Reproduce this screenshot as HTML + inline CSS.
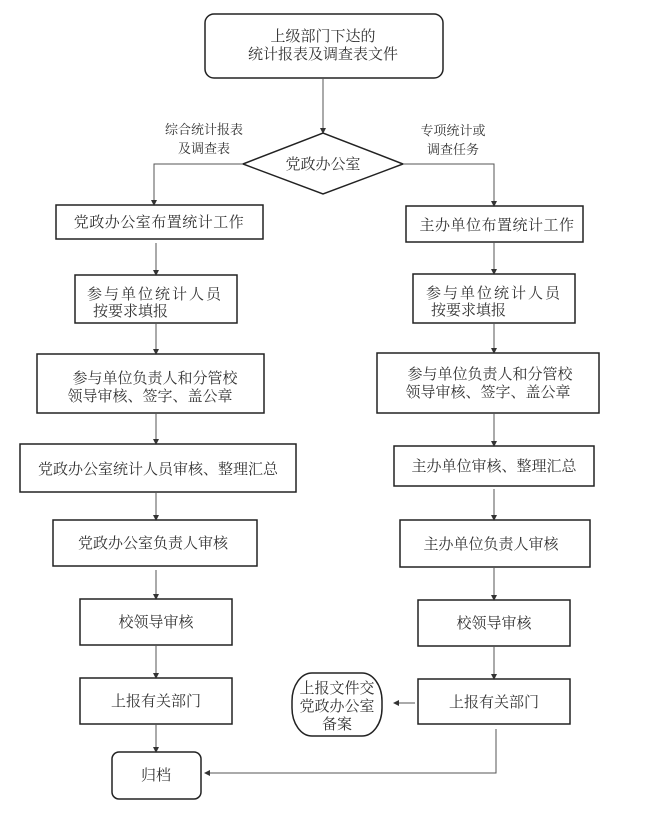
<!DOCTYPE html>
<html><head><meta charset="utf-8"><style>
html,body{margin:0;padding:0;background:#fff;}
svg{display:block;}
text{font-family:"Liberation Serif","Noto Serif CJK SC","Noto Sans CJK SC",serif;font-size:15px;fill:#333;}
.s{font-size:13px;}
</style></head><body>
<svg width="648" height="822" viewBox="0 0 648 822" xmlns="http://www.w3.org/2000/svg">
<defs><marker id="a" markerWidth="6" markerHeight="6" refX="5" refY="3" orient="auto" markerUnits="userSpaceOnUse"><path d="M0,0 L6,3 L0,6 z" fill="#333"/></marker></defs>
<g fill="none" stroke="#222" stroke-width="1.5">
<rect x="205" y="14" width="238" height="64" rx="9"/>
<polygon points="243,164 323,133 403,164 323,194"/>
<rect x="56" y="205" width="207" height="34"/>
<rect x="75" y="275" width="162" height="48"/>
<rect x="37" y="354" width="227" height="59"/>
<rect x="20" y="444" width="276" height="48"/>
<rect x="53" y="520" width="204" height="46"/>
<rect x="80" y="599" width="152" height="46"/>
<rect x="80" y="678" width="152" height="46"/>
<rect x="112" y="752" width="89" height="47" rx="7"/>
<rect x="406" y="206" width="177" height="36"/>
<rect x="413" y="274" width="162" height="49"/>
<rect x="377" y="353" width="222" height="60"/>
<rect x="394" y="446" width="200" height="40"/>
<rect x="400" y="520" width="190" height="47"/>
<rect x="418" y="600" width="152" height="46"/>
<rect x="418" y="679" width="152" height="45"/>
<rect x="292" y="673" width="90" height="63" rx="20" ry="28"/>
</g>
<g fill="none" stroke="#555" stroke-width="1" marker-end="url(#a)">
<path d="M323,78 V133"/>
<path d="M243,164 H154 V205"/>
<path d="M403,164 H494 V206"/>
<path d="M156,243 V275"/>
<path d="M156,323 V354"/>
<path d="M156,413 V444"/>
<path d="M156,492 V520"/>
<path d="M156,570 V599"/>
<path d="M156,645 V678"/>
<path d="M156,724 V752"/>
<path d="M494,242 V274"/>
<path d="M494,323 V353"/>
<path d="M494,413 V446"/>
<path d="M494,489 V520"/>
<path d="M494,567 V600"/>
<path d="M494,646 V679"/>
<path d="M415,703 H394"/>
<path d="M496,729 V773 H205"/>
</g>
<g text-anchor="middle">
<text x="323" y="41">上级部门下达的</text>
<text x="323" y="59">统计报表及调查表文件</text>
<text x="323" y="169">党政办公室</text>
<text class="s" x="204" y="134">综合统计报表</text>
<text class="s" x="204" y="153">及调查表</text>
<text class="s" x="453" y="135">专项统计或</text>
<text class="s" x="453" y="154">调查任务</text>
<text x="159" y="227" letter-spacing="0.5">党政办公室布置统计工作</text>
<text x="155" y="299" letter-spacing="2">参与单位统计人员</text>
<text x="155" y="383">参与单位负责人和分管校</text>
<text x="150" y="401">领导审核、签字、盖公章</text>
<text x="158" y="474">党政办公室统计人员审核、整理汇总</text>
<text x="153" y="548">党政办公室负责人审核</text>
<text x="156" y="627">校领导审核</text>
<text x="156" y="706">上报有关部门</text>
<text x="156" y="780">归档</text>
<text x="497" y="230" letter-spacing="0.5">主办单位布置统计工作</text>
<text x="494" y="298" letter-spacing="2">参与单位统计人员</text>
<text x="490" y="379">参与单位负责人和分管校</text>
<text x="488" y="397">领导审核、签字、盖公章</text>
<text x="494" y="471">主办单位审核、整理汇总</text>
<text x="491" y="549">主办单位负责人审核</text>
<text x="494" y="628">校领导审核</text>
<text x="494" y="707">上报有关部门</text>
<text x="337" y="693">上报文件交</text>
<text x="337" y="711">党政办公室</text>
<text x="337" y="729">备案</text>
</g>
<text x="93" y="316">按要求填报</text>
<text x="431" y="315">按要求填报</text>
</svg>
</body></html>
